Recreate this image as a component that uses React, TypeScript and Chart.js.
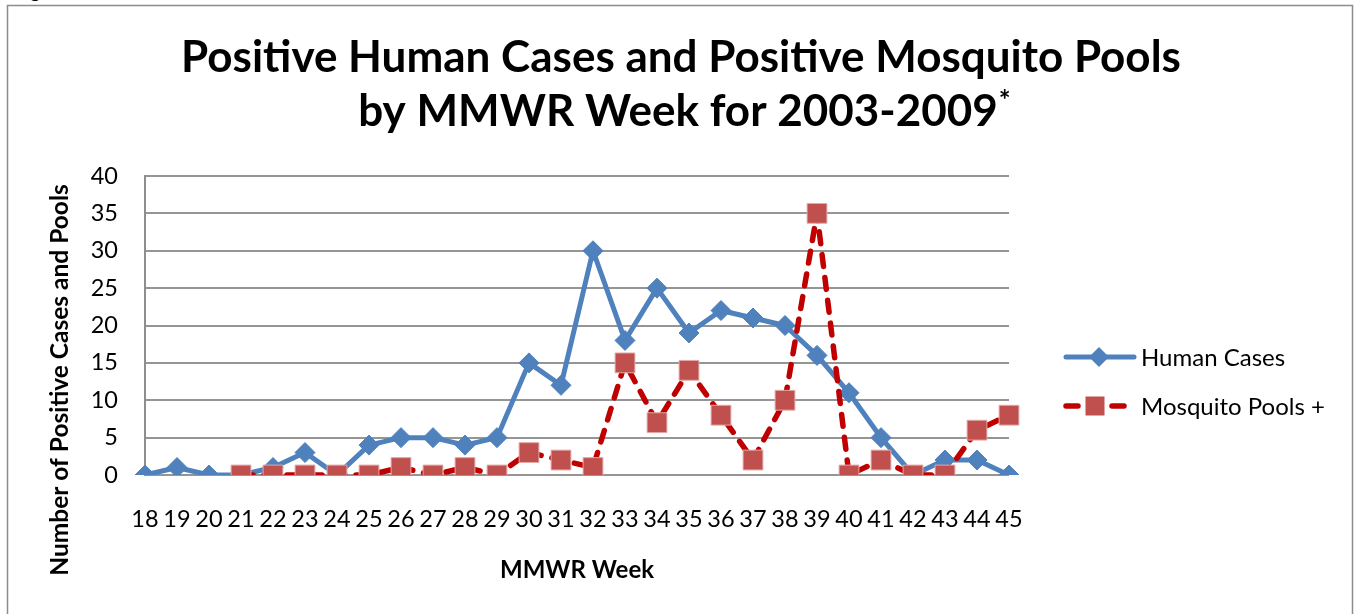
import React, { useEffect, useRef } from "react";
import { Chart, registerables } from "chart.js";

Chart.register(...registerables);

const weeks = ["18","19","20","21","22","23","24","25","26","27","28","29","30","31","32","33","34","35","36","37","38","39","40","41","42","43","44","45"];
const humanCases = [0,1,0,0,1,3,0,4,5,5,4,5,15,12,30,18,25,19,22,21,20,16,11,5,0,2,2,0];
const mosquitoPools = [null,null,null,0,0,0,0,0,1,0,1,0,3,2,1,15,7,14,8,2,10,35,0,2,0,0,6,8];
const seriesNames = ["Human Cases", "Mosquito Pools +"];
const titleLines = ["Positive Human Cases and Positive Mosquito Pools", "by MMWR Week for 2003-2009"];
const titleSup = "*";
const xTitle = "MMWR Week";
const yTitle = "Number of Positive Cases and Pools";
const yMin = 0;
const yMax = 40;
const yStep = 5;

const FONT = "Lato, 'Open Sans', sans-serif";
const BLUE = "#4F81BD";
const RED_LINE = "#C00000";
const RED_MARK = "#C0504D";

const decor = {
  id: "decor",
  beforeDraw(chart: any) {
    const ctx = chart.ctx;
    ctx.save();
    ctx.fillStyle = "#ffffff";
    ctx.fillRect(0, 0, chart.width, chart.height);
    ctx.strokeStyle = "#8c8c8c";
    ctx.lineWidth = 1.5;
    ctx.strokeRect(7.5, 5.5, 1345, 640);
    ctx.fillStyle = "#000";
    ctx.font = `20px ${FONT}`;
    ctx.textBaseline = "alphabetic";
    ctx.fillText("g", 30, -2);
    ctx.restore();
  },
  afterDraw(chart: any) {
    const ctx = chart.ctx;
    const ca = chart.chartArea;
    ctx.save();
    ctx.fillStyle = "#000";
    // Title
    ctx.textBaseline = "alphabetic";
    ctx.textAlign = "center";
    ctx.font = `bold 44px ${FONT}`;
    ctx.fillText(titleLines[0], 681, 72);
    const w2 = ctx.measureText(titleLines[1]).width;
    ctx.font = `bold 28px ${FONT}`;
    const ws = ctx.measureText(titleSup).width;
    const start = 684 - (w2 + ws) / 2;
    ctx.textAlign = "left";
    ctx.font = `bold 44px ${FONT}`;
    ctx.fillText(titleLines[1], start, 126);
    ctx.font = `bold 28px ${FONT}`;
    ctx.fillText(titleSup, start + w2 + 1, 110);

    // Axis titles
    ctx.font = `bold 24px ${FONT}`;
    ctx.textAlign = "center";
    ctx.textBaseline = "middle";
    ctx.fillText(xTitle, (ca.left + ca.right) / 2, 570);
    ctx.save();
    ctx.translate(60, 380);
    ctx.rotate(-Math.PI / 2);
    ctx.font = `bold 24.5px ${FONT}`;
    ctx.fillText(yTitle, 0, 0);
    ctx.restore();

    // Legend
    ctx.textAlign = "left";
    ctx.font = `24px ${FONT}`;
    // Human cases
    const y1 = 357;
    ctx.strokeStyle = BLUE;
    ctx.lineWidth = 5;
    ctx.lineCap = "round";
    ctx.beginPath();
    ctx.moveTo(1066, y1);
    ctx.lineTo(1134, y1);
    ctx.stroke();
    ctx.fillStyle = BLUE;
    ctx.beginPath();
    ctx.moveTo(1099 - 10, y1);
    ctx.lineTo(1099, y1 - 10);
    ctx.lineTo(1099 + 10, y1);
    ctx.lineTo(1099, y1 + 10);
    ctx.closePath();
    ctx.fill();
    ctx.fillStyle = "#000";
    ctx.fillText(seriesNames[0], 1141, y1 + 1);
    // Mosquito
    const y2 = 406;
    ctx.strokeStyle = RED_LINE;
    ctx.lineWidth = 5.5;
    ctx.setLineDash([12, 11]);
    ctx.beginPath();
    ctx.moveTo(1066, y2);
    ctx.lineTo(1126, y2);
    ctx.stroke();
    ctx.setLineDash([]);
    ctx.fillStyle = RED_MARK;
    ctx.fillRect(1095 - 9.5, y2 - 9.5, 19, 19);
    ctx.fillStyle = "#000";
    ctx.fillText(seriesNames[1], 1141, y2 + 1);
    ctx.restore();
  },
};

export default function App() {
  const ref = useRef<HTMLCanvasElement | null>(null);
  useEffect(() => {
    if (!ref.current) return;
    const chart = new Chart(ref.current, {
      type: "line",
      data: {
        labels: weeks,
        datasets: [
          {
            label: seriesNames[0],
            data: humanCases,
            borderColor: BLUE,
            backgroundColor: BLUE,
            borderWidth: 5,
            borderJoinStyle: "round",
            pointStyle: "rectRot",
            pointRadius: 10,
            pointBackgroundColor: BLUE,
            pointBorderColor: BLUE,
            pointBorderWidth: 1,
            tension: 0,
            order: 1,
          },
          {
            label: seriesNames[1],
            data: mosquitoPools,
            borderColor: RED_LINE,
            backgroundColor: RED_MARK,
            borderWidth: 5.5,
            borderDash: [12, 11],
            borderCapStyle: "round",
            borderJoinStyle: "round",
            pointStyle: "rect",
            pointRadius: 14,
            pointBackgroundColor: RED_MARK,
            pointBorderColor: "#E2A9A7",
            pointBorderWidth: 1,
            tension: 0,
            spanGaps: false,
            order: 0,
          },
        ],
      },
      options: {
        responsive: false,
        animation: false,
        layout: { padding: { left: 0, right: 347, top: 176, bottom: 0 } },
        plugins: {
          legend: { display: false },
          title: { display: false },
          tooltip: { enabled: false },
        },
        scales: {
          x: {
            type: "category",
            offset: false,
            grid: { display: false, drawTicks: false },
            border: { display: false },
            ticks: {
              font: { family: FONT, size: 23.5 },
              color: "#000",
              padding: 30,
              maxRotation: 0,
              autoSkip: false,
            },
            afterFit: (s: any) => {
              s.height = 139;
            },
          },
          y: {
            min: yMin,
            max: yMax,
            ticks: {
              stepSize: yStep,
              font: { family: FONT, size: 23.5 },
              color: "#000",
              padding: 27,
            },
            grid: { color: "#959595", lineWidth: 2, drawTicks: false },
            border: { display: true, color: "#8e8e8e", width: 2 },
            afterFit: (s: any) => {
              s.width = 145;
            },
          },
        },
      },
      plugins: [decor],
    } as any);
    return () => chart.destroy();
  }, []);
  return (
    <div style={{ position: "absolute", left: 0, top: 0, width: 1356, height: 614 }}>
      <canvas ref={ref} width={1356} height={614} style={{ display: "block" }} />
    </div>
  );
}
